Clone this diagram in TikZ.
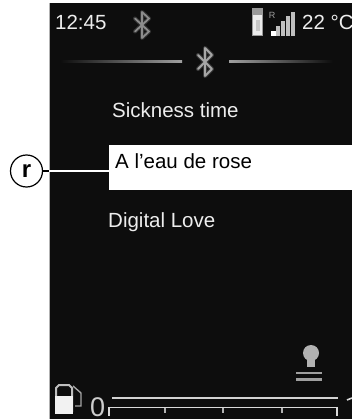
\documentclass[tikz,border=0pt]{standalone}
\usepackage{fontspec}
\setmainfont{Liberation Sans}
\definecolor{screen}{HTML}{0D0D0D}
\tikzset{
  x=1pt,y=-1pt,
  txt/.style={font=\fontsize{20.5}{23}\selectfont,inner sep=0pt,anchor=base west},
  wtxt/.style={txt,text=white!93!black},
  icon/.style={draw=#1,line width=1.8pt,line join=round,line cap=round},
  icon/.default={gray!75},
  halo/.style={draw=#1,line width=4pt,line join=round,line cap=round,opacity=0.3},
  halo/.default={gray!75}
}
\newcommand{\btglyph}[4]{% x y halfheight colour
  \pgfmathsetmacro{\bta}{#3*0.5}
  \path[halo=#4] (#1-7,#2-\bta) -- (#1+7,#2+\bta) -- (#1,#2+#3) -- (#1,#2-#3) -- (#1+7,#2-\bta) -- (#1-7,#2+\bta);
  \path[icon=#4] (#1-7,#2-\bta) -- (#1+7,#2+\bta) -- (#1,#2+#3) -- (#1,#2-#3) -- (#1+7,#2-\bta) -- (#1-7,#2+\bta);
}
\begin{document}
\begin{tikzpicture}
\useasboundingbox (0,0) rectangle (352,419);
\fill[white] (0,0) rectangle (352,419);
\fill[screen] (49,3) rectangle (352,419);
\fill[gray!60] (48.5,3) rectangle (49.5,419);
% status bar
\node[wtxt] (clock) at (55,29.5) {12:45};
\btglyph{142}{25}{13}{gray!90}
\fill[gray!80] (252,8) rectangle (263,36);
\fill[white!92!black] (253,15) rectangle (262,35);
\fill[gray!45] (255.5,20) rectangle (259.5,31);
\node[text=gray!75,font=\fontsize{9}{10}\selectfont,inner sep=0pt] (rlabel) at (272,15) {R};
\fill[white] (271,31) rectangle (276,36);
\foreach \xa/\ya in {276/26,281/21,286/16,291/12}
  \fill[white!75!black] (\xa,\ya) rectangle (\xa+4.2,36);
\begin{scope}
\clip (49,3) rectangle (352,419);
\node[wtxt] (temp) at (302,29.5) {22 °C};
\end{scope}
% header divider
\fill[left color=screen,right color=gray!75] (60,61) rectangle (182,63);
\fill[left color=gray!75,right color=screen] (229,61) rectangle (333,63);
\btglyph{205}{62}{14}{gray!70}
% list
\node[wtxt] (t1) at (112,118) {Sickness time};
\node[draw=none,fill=white,minimum width=243pt,minimum height=45pt,inner sep=0pt,anchor=north west] (sel) at (109,145) {};
\node[txt,text=black] (t2) at (115,169) {A l'eau de rose};
\node[wtxt] (t3) at (108,227) {Digital Love};
% lower divider
\fill[left color=screen,middle color=gray!65,right color=screen] (85,284) rectangle (335,286);
% callout
\node[circle,draw=black,line width=1.2pt,fill=white,minimum size=32pt,inner sep=0pt,font=\fontsize{24}{26}\selectfont\bfseries] (r) at (26.5,171) {r};
\coordinate (edge) at (49,171);
\draw[black,line width=1.4pt] (r.east) -- (edge);
\draw[white,line width=1.2pt] (edge) -- (sel.west |- edge);
% person icon
\fill[gray!60] (311,353) circle (8);
\fill[gray!60] (307,357) rectangle (315,367);
\fill[gray!75] (296,371.5) rectangle (322,374);
\fill[gray!75] (296,378) rectangle (322,381);
% fuel pump
\draw[white!75!black,line width=2pt] (56,412) -- (56,388) -- (59,385) -- (69,385) -- (72,388) -- (72,412);
\fill[white!95!black] (55,396) rectangle (73,414);
\draw[gray!70,line width=1.4pt] (73,386) -- (81,393) -- (81,406) -- (75,406);
\node[text=white!80!black,font=\fontsize{27}{28}\selectfont,inner sep=0pt,anchor=base west] (zero) at (90,416) {0};
% gauge
\fill[gray!35] (112,397) rectangle (338,398.5);
\draw[white!85!black,line width=1.6pt] (109,416) -- (109,407.5) -- (337,407.5) -- (337,416);
\foreach \tx in {165,223,282}
  \draw[white!70!black,line width=1.3pt] (\tx,407.5) -- (\tx,413);
\draw[white!85!black,line width=1.6pt] (347,400) -- (352,398);
\end{tikzpicture}
\end{document}
